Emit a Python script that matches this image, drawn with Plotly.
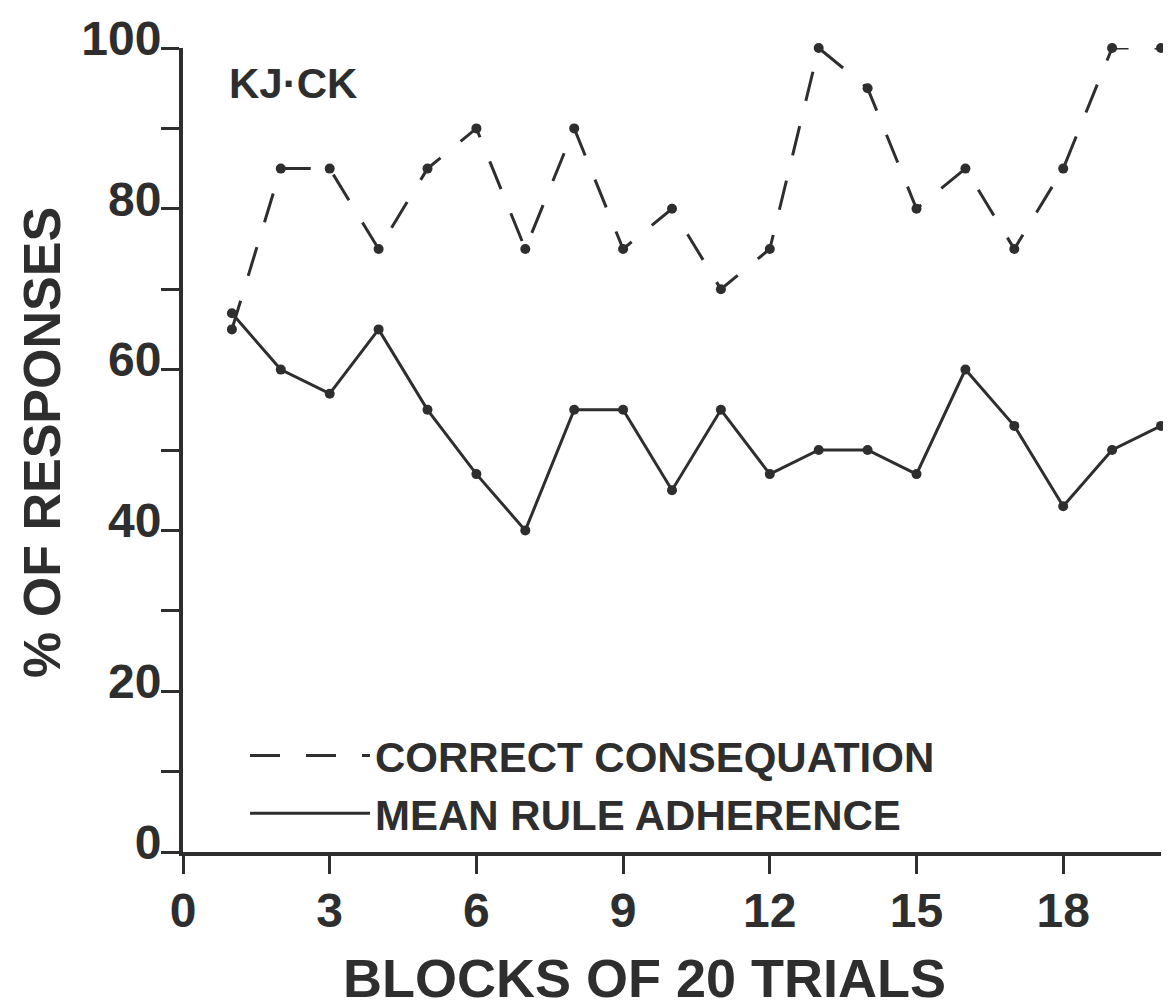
import plotly.graph_objects as go

# blocks of 20 trials
blocks = list(range(1, 21))

correct_consequation = [65, 85, 85, 75, 85, 90, 75, 90, 75, 80,
                        70, 75, 100, 95, 80, 85, 75, 85, 100, 100]
mean_rule_adherence = [67, 60, 57, 65, 55, 47, 40, 55, 55, 45,
                       55, 47, 50, 50, 47, 60, 53, 43, 50, 53]

x_ticks = [0, 3, 6, 9, 12, 15, 18]
y_ticks = [0, 20, 40, 60, 80, 100]
y_minor = [10, 30, 50, 70, 90]

INK = "#2e2e2e"
FONT = "Liberation Sans"

#===========================================================================================================#

def addSeries(fig: go.Figure, y: list, name: str, dash: str) -> None:
    # line carries the legend entry, dots are drawn separately so the legend shows a plain line
    fig.add_trace(go.Scatter(x=blocks, y=y, mode="lines", name=name, cliponaxis=False,
                             line=dict(color=INK, width=3, dash=dash)))
    fig.add_trace(go.Scatter(x=blocks, y=y, mode="markers", showlegend=False, cliponaxis=False,
                             marker=dict(color=INK, size=10)))

fig = go.Figure()
addSeries(fig, correct_consequation, "CORRECT CONSEQUATION", "30px,26px")
addSeries(fig, mean_rule_adherence, "MEAN RULE ADHERENCE", "solid")

fig.update_layout(
    width=1155, height=1000,
    margin=dict(l=175, r=2, t=40, b=156, autoexpand=False),
    paper_bgcolor="white", plot_bgcolor="white",
    font=dict(family=FONT, color=INK, weight="bold"),
    showlegend=True,
    legend=dict(x=0.0634, y=0.162, xanchor="left", yanchor="top",
                font=dict(size=42, family=FONT, color=INK, weight="bold"),
                itemwidth=120, bgcolor="rgba(0,0,0,0)", tracegroupgap=0),
    xaxis=dict(range=[0, 20], tickvals=x_ticks, showgrid=False, zeroline=False,
               showline=True, linecolor=INK, linewidth=4, automargin=False,
               ticks="outside", ticklen=18, tickwidth=3, tickcolor=INK,
               ticklabelstandoff=-5,
               tickfont=dict(size=48, family=FONT, color=INK, weight="bold")),
    yaxis=dict(range=[0, 100], tickvals=y_ticks, showgrid=False, zeroline=False,
               showline=True, linecolor=INK, linewidth=4, automargin=False,
               ticks="outside", ticklen=18, tickwidth=3, tickcolor=INK,
               minor=dict(tickvals=y_minor, ticks="outside",
                          ticklen=18, tickwidth=3, tickcolor=INK),
               ticklabelstandoff=-10, ticklabelshift=-10, ticklabeloverflow="allow",
               tickfont=dict(size=48, family=FONT, color=INK, weight="bold")),
    annotations=[
        dict(text="BLOCKS OF 20 TRIALS", xref="paper", yref="paper", x=0.472, y=-0.1567,
             xanchor="center", yanchor="middle", showarrow=False,
             font=dict(size=54, family=FONT, color=INK, weight="bold")),
        dict(text="% OF RESPONSES", xref="paper", yref="paper", x=-0.1442, y=0.51,
             xanchor="center", yanchor="middle", textangle=-90, showarrow=False,
             font=dict(size=52, family=FONT, color=INK, weight="bold")),
        dict(text="KJ·CK", xref="paper", yref="paper", x=0.045, y=0.956,
             xanchor="left", yanchor="middle", showarrow=False,
             font=dict(size=42, family=FONT, color=INK, weight="bold")),
    ],
)

fig.write_html("out.html")
